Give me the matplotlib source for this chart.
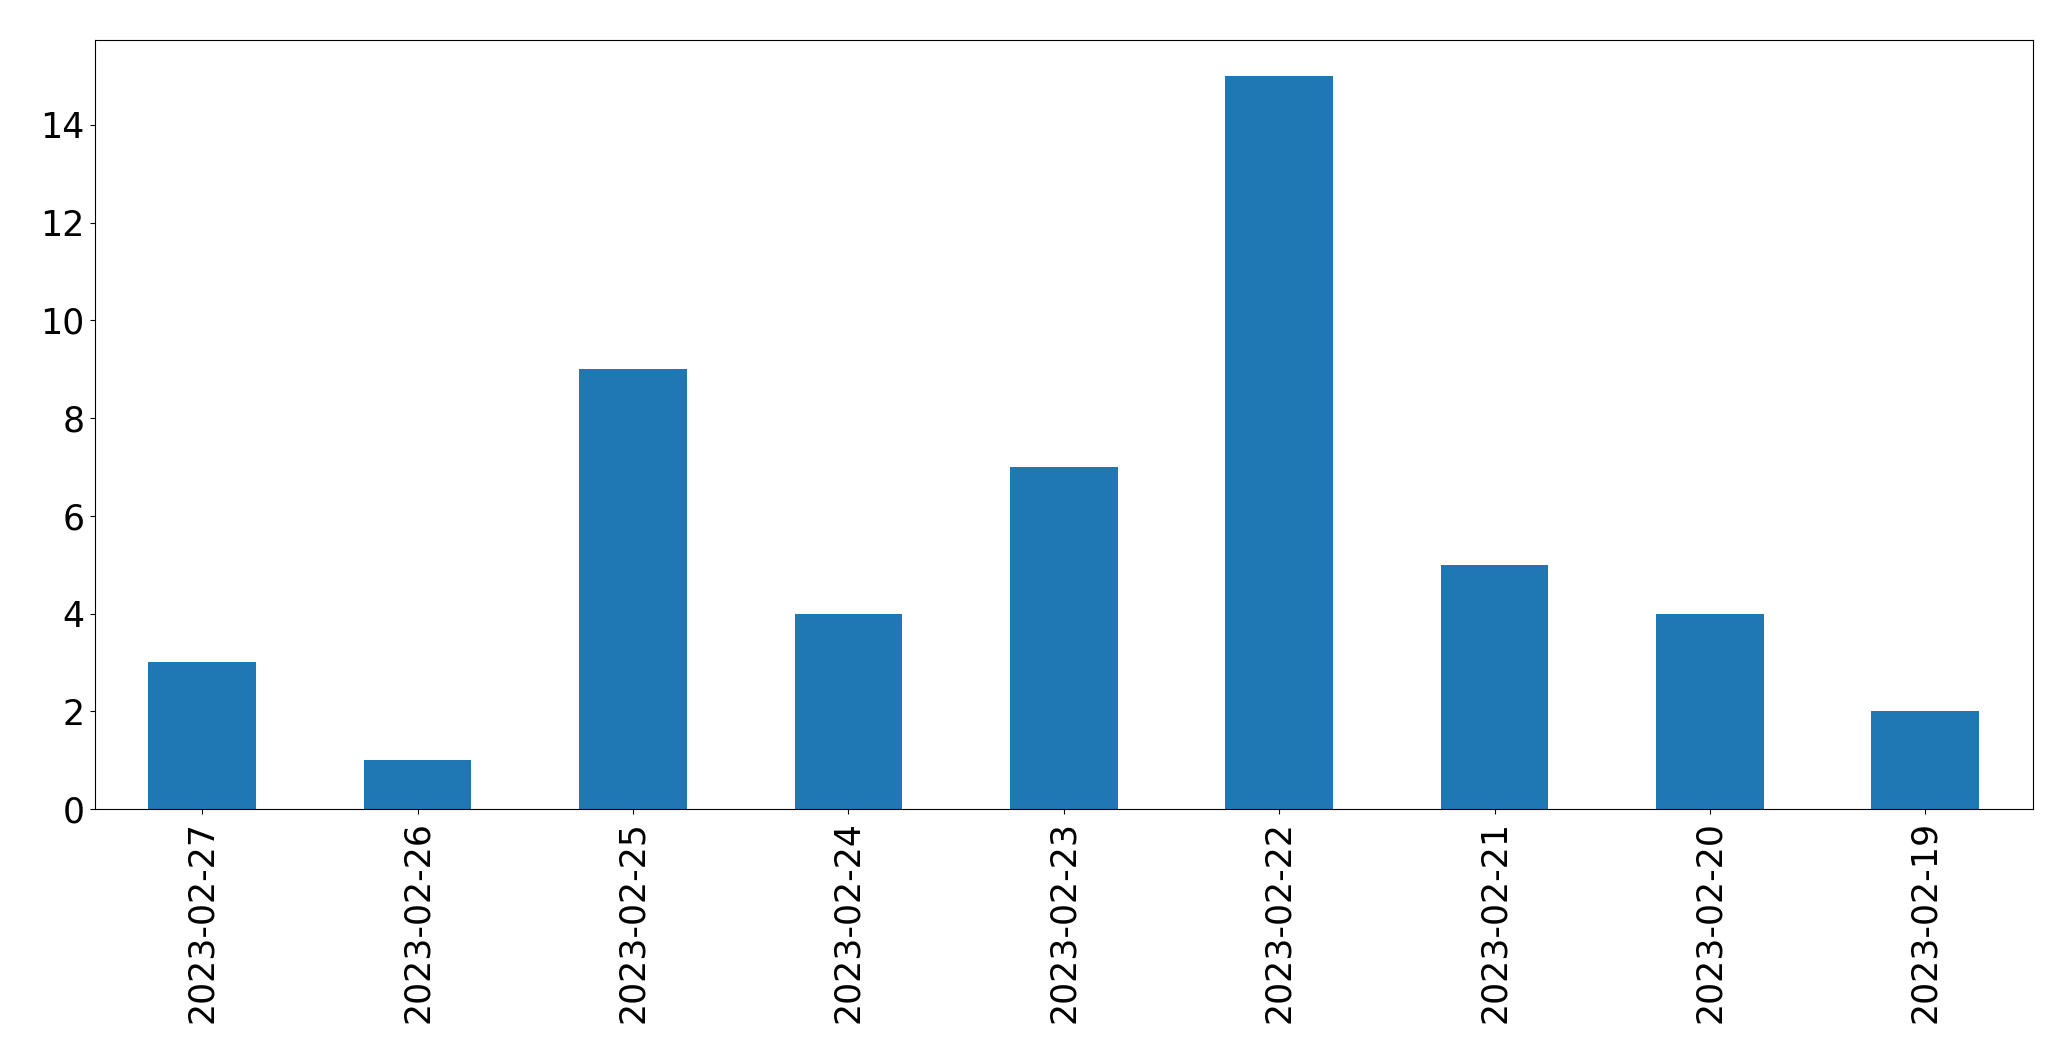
import matplotlib
matplotlib.use("Agg")
import matplotlib.pyplot as plt

dates = ["2023-02-27", "2023-02-26", "2023-02-25", "2023-02-24", "2023-02-23",
         "2023-02-22", "2023-02-21", "2023-02-20", "2023-02-19"]
counts = [3, 1, 9, 4, 7, 15, 5, 4, 2]

fig = plt.figure(figsize=(20.71, 10.61), dpi=100)
ax = fig.add_axes([94.5/2071, 1-809/1061, (2033-94.5)/2071, (809-39.5)/1061])
x = list(range(len(dates)))
ax.bar(x, counts, width=0.5, color="#1f77b4")
ax.set_xlim(-0.5, len(dates) - 0.5)
ax.set_xticks(x)
ax.set_xticklabels(dates, rotation=90)
ax.tick_params(labelsize=25)
ax.tick_params(axis="x", pad=5)
fig.savefig("out.png", dpi=100)
